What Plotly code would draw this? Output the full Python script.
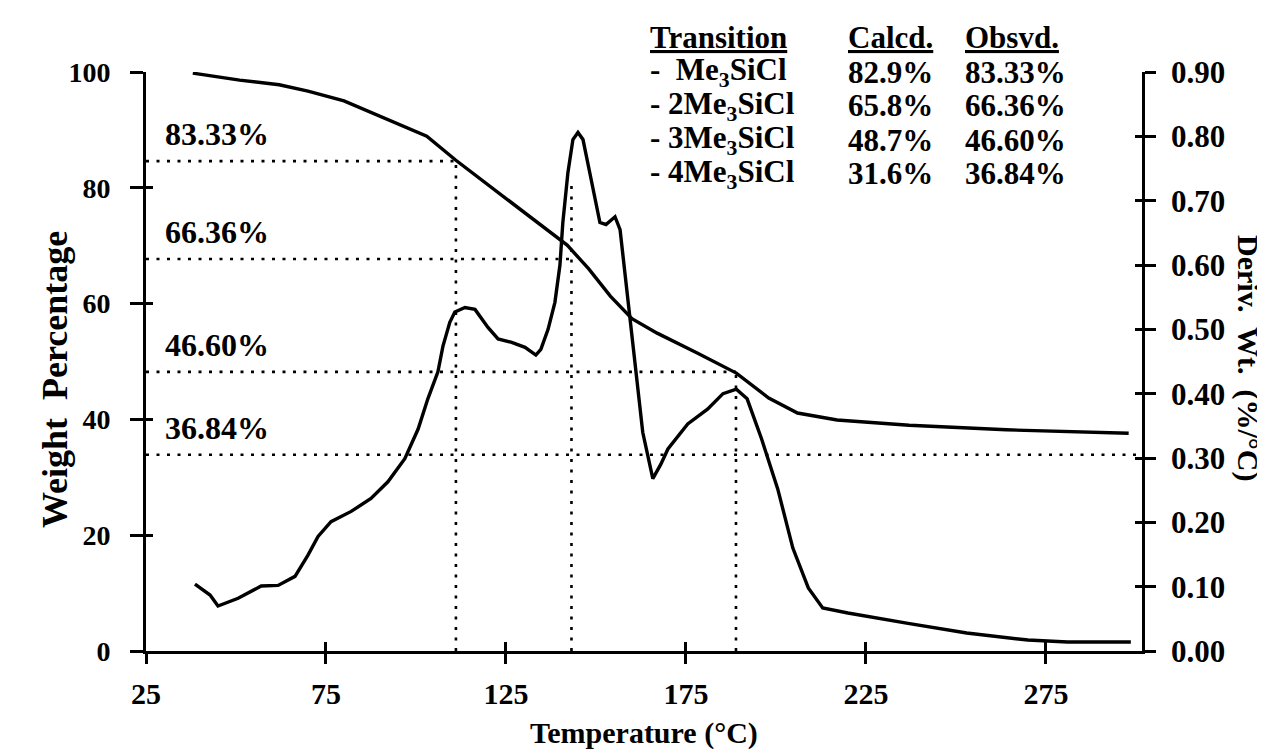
import plotly.graph_objects as go

# ---------------- data ----------------
weight_temp = [38, 51, 62, 70, 80, 89, 96, 103, 111, 118, 126, 131, 137, 142, 148,
               154, 160, 167, 178, 189, 198, 206, 217, 237, 264, 298]
weight_pct = [99.8, 98.6, 97.8, 96.7, 95.0, 92.6, 90.7, 88.9, 84.8, 81.5, 77.6, 75.3,
              72.5, 70.1, 66.0, 61.3, 57.4, 54.9, 51.5, 48.0, 43.7, 41.1, 39.9, 39.0,
              38.2, 37.6]

deriv_temp = [38.6, 42.8, 45, 50.6, 57, 61.7, 66.4, 70, 72.8, 76.4, 82, 87.5, 92.2, 96.9,
              100.6, 103.3, 106.1, 107.5, 109.4, 110.8, 113.6, 116.4, 120, 122.8, 126.4,
              130.3, 133.3, 134.7, 136.7, 138.6, 140, 140.8, 142.2, 143.6, 145, 146.4,
              148.3, 149.7, 151.1, 152.8, 155.3, 156.7, 158, 159.4, 161, 163, 165.8, 168,
              170, 175.5, 181, 185.3, 189, 192, 196, 200.5, 204.7, 209, 213, 220, 236.7,
              253, 270, 281, 298.6]
deriv_val = [0.104, 0.087, 0.070, 0.082, 0.101, 0.102, 0.116, 0.149, 0.178, 0.201, 0.217,
             0.237, 0.263, 0.299, 0.345, 0.392, 0.434, 0.474, 0.511, 0.527, 0.534, 0.531,
             0.503, 0.485, 0.480, 0.472, 0.460, 0.469, 0.500, 0.542, 0.600, 0.666, 0.743,
             0.795, 0.806, 0.795, 0.743, 0.702, 0.666, 0.663, 0.675, 0.655, 0.589, 0.511,
             0.430, 0.340, 0.268, 0.290, 0.314, 0.353, 0.376, 0.400, 0.407, 0.392, 0.330,
             0.252, 0.160, 0.098, 0.067, 0.059, 0.043, 0.028, 0.017, 0.014, 0.014]

# guide lines (weight levels as drawn, and where they end / the transition temperatures)
guide_labels = ["83.33%", "66.36%", "46.60%", "36.84%"]
guide_levels = [84.6, 67.7, 48.2, 33.9]
guide_end_temp = [111.1, 143.2, 188.9, 301.7]
vert_temp = [111.1, 143.2, 188.9]
vert_top = [84.6, 81.0, 48.2]

# table
table_headers = ["Transition", "Calcd.", "Obsvd."]
transitions = ["-  Me<sub>3</sub>SiCl", "- 2Me<sub>3</sub>SiCl", "- 3Me<sub>3</sub>SiCl", "- 4Me<sub>3</sub>SiCl"]
calcd = ["82.9%", "65.8%", "48.7%", "31.6%"]
obsvd = ["83.33%", "66.36%", "46.60%", "36.84%"]

x_ticks = [25, 75, 125, 175, 225, 275]
y_ticks = [0, 20, 40, 60, 80, 100]
y2_ticks = [0.0, 0.1, 0.2, 0.3, 0.4, 0.5, 0.6, 0.7, 0.8, 0.9]

X_RANGE = [25, 301.7]

# ---------------- figure ----------------
FONT = "Liberation Serif"
W, H = 1265, 755
ML, MR, MT, MB = 138, 131, 64, 112
PW, PH = W - ML - MR, H - MT - MB

def px_to_paper(px, py):
    return (px - ML) / PW, (H - MB - py) / PH

def bold(size):
    return dict(family=FONT, size=size, color="black", weight="bold")

fig = go.Figure()
dot = dict(color="black", width=2.6, dash="3px,7.5px")

for lvl, xe in zip(guide_levels, guide_end_temp):
    fig.add_trace(go.Scatter(x=[X_RANGE[0], xe], y=[lvl, lvl], mode="lines",
                             line=dot, showlegend=False, hoverinfo="skip"))
for xv, top in zip(vert_temp, vert_top):
    fig.add_trace(go.Scatter(x=[xv, xv], y=[0, top], mode="lines",
                             line=dot, showlegend=False, hoverinfo="skip"))

fig.add_trace(go.Scatter(x=weight_temp, y=weight_pct, mode="lines",
                         line=dict(color="black", width=3.4), showlegend=False))
fig.add_trace(go.Scatter(x=deriv_temp, y=deriv_val, mode="lines", yaxis="y2",
                         line=dict(color="black", width=3.4), showlegend=False))
# helper traces so the crossing-tick overlay axes are drawn
fig.add_trace(go.Scatter(x=[None], y=[None], xaxis="x2", yaxis="y3", showlegend=False))
fig.add_trace(go.Scatter(x=[None], y=[None], xaxis="x2", yaxis="y4", showlegend=False))

axis_common = dict(showgrid=False, zeroline=False, showline=True, linecolor="black",
                   linewidth=2.6, tickcolor="black", tickwidth=2.6)

fig.update_layout(
    width=W, height=H,
    margin=dict(l=ML, r=MR, t=MT, b=MB),
    paper_bgcolor="white", plot_bgcolor="white",
    xaxis=dict(range=X_RANGE, tickvals=x_ticks, ticks="outside", ticklen=10,
               ticklabelstandoff=4, tickfont=bold(30), **axis_common),
    xaxis2=dict(range=X_RANGE, overlaying="x", side="bottom", tickvals=x_ticks,
                ticks="inside", ticklen=9, showticklabels=False, **axis_common),
    yaxis=dict(range=[0, 100], tickvals=y_ticks, ticks="outside", ticklen=13,
               ticklabelstandoff=14, tickfont=bold(28), **axis_common),
    yaxis2=dict(range=[0, 0.9], tickvals=y2_ticks, tickformat=".2f", side="right",
                overlaying="y", ticks="outside", ticklen=11, ticklabelstandoff=9,
                tickfont=bold(31), **axis_common),
    yaxis3=dict(range=[0, 100], overlaying="y", side="left", anchor="x2", tickvals=y_ticks,
                ticks="inside", ticklen=7, showticklabels=False, **axis_common),
    yaxis4=dict(range=[0, 0.9], overlaying="y", side="right", anchor="x2", tickvals=y2_ticks,
                ticks="inside", ticklen=7, showticklabels=False, **axis_common),
)

# axis titles (explicit centre anchors)
x, y = px_to_paper(636, 725)
fig.add_annotation(text="Temperature (°C)", x=x, y=y, xref="paper", yref="paper",
                   xanchor="center", yanchor="middle", showarrow=False, font=bold(30))
x, y = px_to_paper(47, 372)
fig.add_annotation(text="Weight  Percentage", x=x, y=y, xref="paper", yref="paper",
                   xanchor="center", yanchor="middle", showarrow=False, font=bold(36),
                   textangle=-90)
x, y = px_to_paper(1240, 350)
fig.add_annotation(text="Deriv.  Wt.  (%/°C)", x=x, y=y, xref="paper", yref="paper",
                   xanchor="center", yanchor="middle", showarrow=False, font=bold(30),
                   textangle=90)

# guide labels
for lab, lvl in zip(guide_labels, guide_levels):
    fig.add_annotation(text=lab, x=X_RANGE[0], y=lvl, xref="x", yref="y",
                       xanchor="left", yanchor="middle", xshift=17, yshift=27,
                       showarrow=False, font=bold(32))

# table
col_x = [640, 838, 955]
header_y = 30
row_y = [64, 98, 132, 166]
for cx, htxt in zip(col_x, table_headers):
    x, y = px_to_paper(cx, header_y)
    fig.add_annotation(text=f"<u>{htxt}</u>", x=x, y=y, xref="paper", yref="paper",
                       xanchor="left", yanchor="middle", showarrow=False, font=bold(31))
for ry, t, c, o in zip(row_y, transitions, calcd, obsvd):
    for cx, txt in zip(col_x, [t, c, o]):
        x, y = px_to_paper(cx, ry)
        fig.add_annotation(text=txt, x=x, y=y, xref="paper", yref="paper",
                           xanchor="left", yanchor="middle", showarrow=False, font=bold(31))

fig.write_html("out.html")
